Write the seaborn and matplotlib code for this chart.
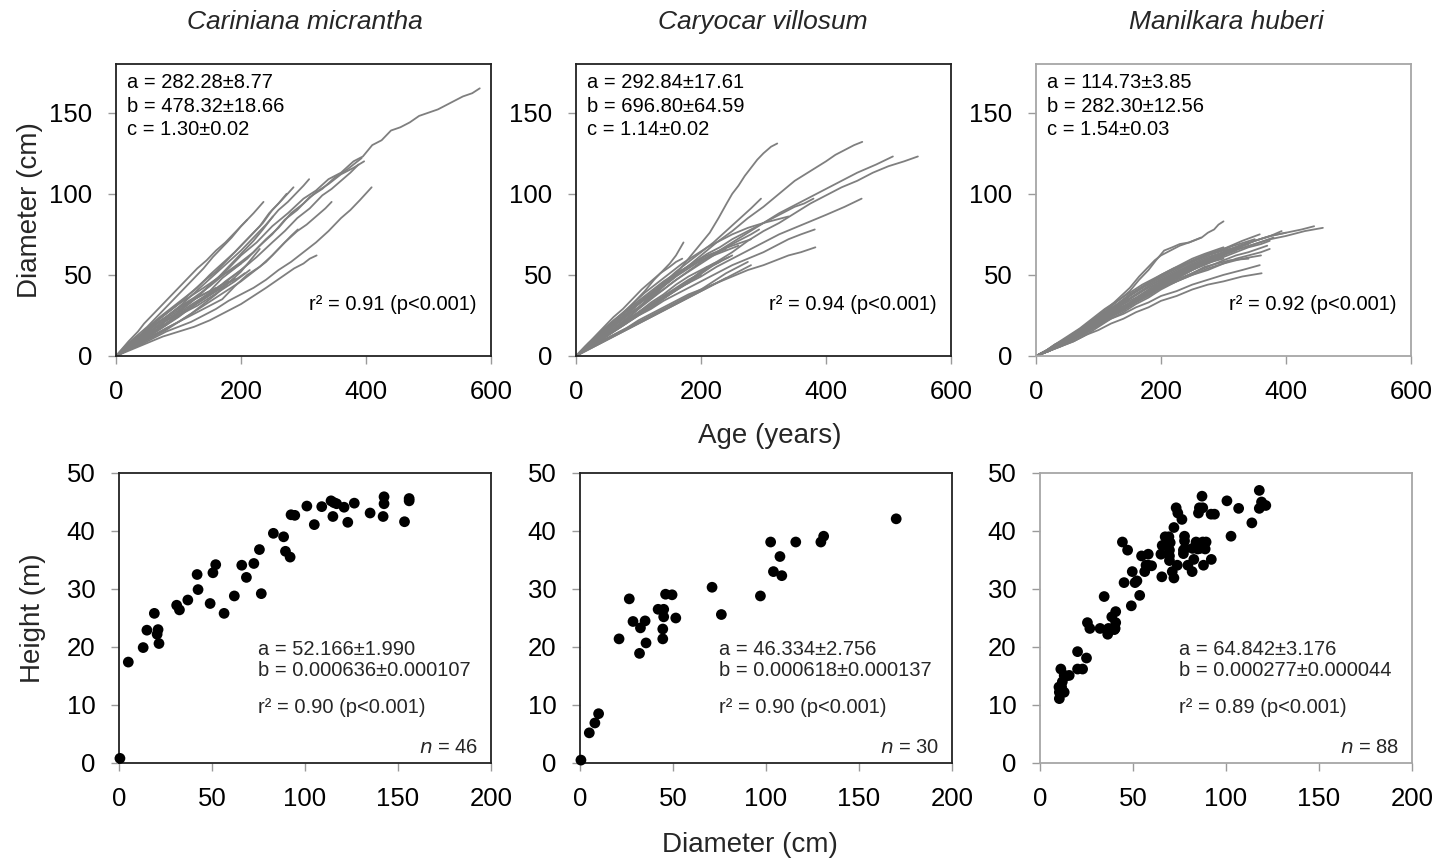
import matplotlib
matplotlib.use("Agg")
import matplotlib.pyplot as plt
import seaborn as sns
import pandas as pd

# ---------------- data ----------------
species = ["Cariniana micrantha", "Caryocar villosum", "Manilkara huberi"]

top_params = [
    ["a = 282.28±8.77", "b = 478.32±18.66", "c = 1.30±0.02"],
    ["a = 292.84±17.61", "b = 696.80±64.59", "c = 1.14±0.02"],
    ["a = 114.73±3.85", "b = 282.30±12.56", "c = 1.54±0.03"],
]
top_r2 = ["r² = 0.91 (p<0.001)", "r² = 0.94 (p<0.001)", "r² = 0.92 (p<0.001)"]

bottom_params = [
    ["a = 52.166±1.990", "b = 0.000636±0.000107"],
    ["a = 46.334±2.756", "b = 0.000618±0.000137"],
    ["a = 64.842±3.176", "b = 0.000277±0.000044"],
]
bottom_r2 = ["r² = 0.90 (p<0.001)", "r² = 0.90 (p<0.001)", "r² = 0.89 (p<0.001)"]
bottom_n = ["46", "30", "88"]

top_xticks = [0, 200, 400, 600]
top_yticks = [0, 50, 100, 150]
bot_xticks = [0, 50, 100, 150, 200]
bot_yticks = [0, 10, 20, 30, 40, 50]

# growth trajectories: (age in years, diameter in cm)
cariniana_lines = [
    [(0,0),(25,6),(50,13),(65,16),(80,22),(95,25),(110,31),(130,36),(150,44),(175,52),(200,62),(225,70),(250,80),(275,88),(300,97),(320,102),(340,109),(360,113),(380,120),(395,123),(410,130),(425,133),(440,139),(455,141),(470,144),(485,148),(500,150),(515,152),(530,155),(545,158),(555,160),(570,162),(582,165)],
    [(0,0),(15,6),(30,10),(45,14),(60,19),(80,24),(100,30),(125,36),(150,43),(175,51),(200,58),(220,64),(240,72),(260,79),(280,88),(300,94),(320,101),(340,106),(360,112),(380,116),(397,120)],
    [(0,0),(30,9),(45,12),(60,17),(80,23),(100,28),(125,35),(150,40),(170,48),(190,54),(210,60),(230,68),(250,75),(270,84),(290,90),(310,98),(330,103),(350,110),(370,115),(393,122)],
    [(0,0),(35,8),(50,12),(70,17),(90,23),(110,28),(130,33),(150,38),(175,46),(200,53),(225,61),(250,70),(270,77),(290,85),(310,91),(330,99),(345,103),(360,108),(375,113),(388,118)],
    [(0,0),(20,4),(40,7),(60,11),(80,15),(100,18),(120,21),(140,25),(160,29),(180,34),(200,38),(220,42),(240,47),(260,53),(280,58),(300,64),(320,70),(340,77),(360,85),(375,90),(390,96),(409,104)],
    [(0,0),(20,4),(40,8),(60,13),(80,17),(100,21),(120,25),(145,30),(170,35),(190,43),(210,50),(230,55),(250,62),(270,70),(290,77),(305,81),(320,86),(335,91),(345,95)],
    [(0,0),(25,4),(50,8),(75,12),(100,15),(125,18),(150,22),(175,27),(200,32),(220,37),(240,42),(255,46),(270,50),(285,54),(300,57),(310,60),(321,62)],
    [(0,0),(15,5),(30,9),(45,13),(60,18),(80,24),(100,30),(120,37),(140,44),(160,51),(180,58),(200,65),(220,73),(240,81),(260,90),(275,95),(290,101),(300,105),(309,109)],
    [(0,0),(15,5),(30,10),(45,15),(60,20),(80,26),(100,32),(120,39),(140,46),(160,52),(180,60),(200,68),(220,76),(235,82),(250,90),(265,96),(284,104)],
    [(0,0),(25,9),(40,13),(55,19),(70,24),(90,30),(110,36),(130,42),(150,50),(170,57),(190,64),(210,72),(230,80),(245,88),(260,94),(273,100)],
    [(0,0),(20,8),(35,13),(50,18),(65,24),(80,30),(95,36),(110,42),(125,48),(140,54),(155,61),(170,67),(185,73),(200,80),(220,88),(236,95)],
    [(0,0),(30,8),(45,12),(60,16),(80,22),(100,27),(120,33),(140,40),(160,47),(180,55),(200,63),(220,71),(235,78),(251,86)],
    [(0,0),(20,4),(40,8),(60,12),(80,17),(100,21),(120,26),(140,31),(160,36),(180,41),(200,46),(220,52),(240,58),(255,64),(270,70),(280,74),(291,78)],
    [(0,0),(15,3),(30,7),(50,12),(70,17),(90,22),(110,27),(130,31),(150,36),(170,41),(190,46),(214,53)],
    [(0,0),(30,8),(45,11),(60,15),(80,20),(100,25),(120,30),(140,35),(160,40),(180,45),(195,48),(206,51)],
    [(0,0),(20,5),(40,9),(60,14),(80,19),(100,25),(120,30),(140,35),(160,40),(175,44),(190,48)],
    [(0,0),(15,5),(30,9),(50,14),(70,19),(90,24),(110,29),(130,34),(150,39),(165,43),(180,46)],
    [(0,0),(15,5),(30,10),(45,15),(60,20),(80,26),(100,32),(120,37),(140,42),(155,46),(170,50),(185,53),(200,57)],
    [(0,0),(20,5),(40,10),(60,15),(80,20),(100,25),(120,30),(135,34),(150,38),(165,41),(175,44)],
    [(0,0),(15,3),(30,7),(45,10),(60,14),(80,19),(100,24),(120,30),(140,36),(160,41),(180,47),(200,53),(215,58)],
    [(0,0),(15,5),(30,10),(45,14),(60,19),(80,24),(100,29),(115,33),(130,36),(145,39),(160,42)],
    [(0,0),(20,4),(40,8),(60,12),(80,16),(100,21),(120,26),(140,32),(160,38),(180,45),(200,52),(215,59),(230,66)],
    [(0,0),(20,9),(35,15),(45,20),(60,26),(70,30),(85,36),(100,42),(115,48),(130,54),(145,59),(160,65),(175,70),(190,76),(210,84)],
]

caryocar_lines = [
    [(0,0),(20,5),(40,10),(60,16),(80,22),(100,29),(120,36),(135,41),(150,47),(165,53),(180,60),(197,68),(214,76),(228,85),(241,94),(250,100),(260,105),(270,111),(278,115),(290,121),(300,125),(312,129),(322,131)],
    [(0,0),(15,5),(30,10),(45,15),(60,20),(80,26),(100,32),(125,39),(150,46),(175,54),(200,62),(225,70),(250,77),(275,85),(300,92),(325,100),(350,108),(375,114),(400,120),(415,124),(430,127),(445,130),(458,132)],
    [(0,0),(15,5),(30,9),(50,14),(70,20),(90,26),(110,32),(130,38),(150,44),(175,51),(200,58),(225,64),(250,70),(275,76),(300,82),(325,88),(350,93),(375,98),(400,103),(425,108),(450,113),(480,118),(507,123)],
    [(0,0),(15,4),(30,7),(45,11),(60,15),(80,20),(100,25),(125,31),(150,38),(175,45),(200,52),(225,58),(250,64),(275,71),(300,77),(325,82),(350,88),(375,94),(400,99),(425,104),(450,108),(475,113),(500,117),(525,120),(547,123)],
    [(0,0),(15,4),(30,8),(50,13),(70,18),(90,24),(110,29),(130,33),(150,38),(175,44),(200,49),(225,55),(250,60),(275,65),(300,70),(325,75),(350,79),(375,83),(400,87),(430,92),(457,97)],
    [(0,0),(20,5),(40,10),(60,15),(80,20),(100,25),(120,29),(140,34),(160,38),(180,42),(200,46),(225,51),(250,56),(275,60),(300,64),(320,68),(340,72),(360,75),(382,78)],
    [(0,0),(20,5),(40,9),(60,13),(80,17),(100,22),(120,26),(140,30),(160,34),(180,38),(200,41),(225,45),(250,49),(275,53),(300,56),(320,59),(340,62),(360,64),(383,67)],
    [(0,0),(15,4),(30,9),(45,14),(60,19),(80,25),(100,32),(120,38),(140,45),(160,52),(180,58),(200,64),(220,70),(240,77),(260,84),(280,91),(296,97)],
    [(0,0),(20,7),(35,12),(50,17),(65,22),(80,28),(95,34),(110,40),(125,47),(140,53),(150,57),(160,62),(172,70)],
    [(0,0),(15,5),(30,10),(45,14),(60,19),(80,25),(100,30),(120,36),(140,41),(160,47),(180,52),(200,57),(220,62),(240,67),(260,71),(280,75),(293,78)],
    [(0,0),(20,5),(40,9),(60,13),(80,17),(100,21),(120,25),(140,29),(160,33),(180,37),(200,41),(220,46),(240,51),(260,55),(275,58)],
    [(0,0),(25,9),(40,14),(55,19),(70,24),(90,30),(110,36),(130,42),(150,48),(170,53),(190,58),(210,62),(230,65),(250,68),(265,70),(280,72)],
    [(0,0),(15,4),(30,8),(50,13),(70,18),(90,23),(110,28),(130,33),(150,38),(170,43),(190,48),(205,52),(220,56),(235,59),(250,62)],
    [(0,0),(20,6),(40,11),(60,17),(80,22),(100,27),(120,32),(140,37),(160,42),(180,47),(200,51),(215,55),(230,58)],
    [(0,0),(15,5),(30,9),(50,14),(70,19),(90,24),(110,29),(130,34),(150,39),(165,42),(180,45),(190,48),(200,50)],
    [(0,0),(15,6),(30,11),(45,17),(60,22),(80,28),(100,34),(120,40),(140,46),(160,51),(180,55),(200,59),(220,62),(240,65),(260,68)],
    [(0,0),(20,5),(40,10),(60,15),(80,20),(100,26),(120,31),(140,36),(160,41),(175,45),(190,49),(200,52),(210,55)],
    [(0,0),(20,4),(40,8),(60,12),(80,16),(100,20),(120,24),(140,28),(160,32),(180,36),(200,40),(220,44),(240,48)],
    [(0,0),(20,8),(35,13),(50,18),(70,25),(90,32),(110,39),(130,45),(150,51),(170,57),(190,62),(210,67),(230,71),(250,75),(275,79),(300,82),(320,84),(340,86)],
    [(0,0),(15,6),(30,12),(45,18),(60,24),(75,29),(90,35),(105,41),(120,46),(135,51),(150,55),(160,58),(170,60)],
    [(0,0),(25,5),(50,10),(75,15),(100,20),(125,25),(150,30),(175,35),(200,40),(225,45),(250,50),(265,53),(280,56)],
    [(0,0),(15,5),(30,10),(50,16),(70,22),(90,29),(110,35),(130,41),(150,47),(170,53),(190,58),(210,63),(230,67),(250,72),(270,76),(290,80),(310,84),(330,88),(350,92),(365,94),(380,97)],
    [(0,0),(20,6),(40,12),(60,18),(80,24),(100,30),(120,37),(140,43),(160,49),(180,54),(200,59),(220,63),(240,66)],
    [(0,0),(20,5),(40,11),(60,16),(80,21),(100,27),(120,33),(140,38),(160,44),(180,49),(200,53),(220,57),(245,61)],
]

manilkara_lines = [
    [(0,0),(25,4),(50,10),(75,17),(100,24),(125,32),(150,40),(165,47),(180,53),(192,59),(205,65),(218,67),(230,69),(245,70),(265,73),(275,76),(285,78),(292,81),(300,83)],
    [(0,0),(25,4),(50,11),(75,18),(100,25),(125,33),(150,42),(165,49),(180,55),(190,59),(200,62),(215,65),(230,68),(245,70),(264,73)],
    [(0,0),(20,3),(40,7),(60,11),(80,15),(100,19),(120,24),(140,29),(160,34),(180,39),(200,44),(225,49),(250,54),(275,58),(300,62),(325,66),(350,69),(375,72),(400,74),(430,77),(459,79)],
    [(0,0),(20,4),(40,8),(60,12),(80,17),(100,22),(120,27),(140,32),(160,36),(180,41),(200,46),(225,51),(250,56),(275,60),(300,64),(325,68),(350,71),(375,74),(400,76),(425,78),(445,80)],
    [(0,0),(20,3),(40,7),(60,11),(80,16),(100,21),(120,26),(140,30),(160,35),(180,40),(200,45),(225,50),(250,55),(275,59),(300,63),(325,67),(350,71),(375,74),(393,77)],
    [(0,0),(15,3),(30,6),(50,10),(70,15),(90,20),(110,26),(130,31),(150,37),(175,43),(200,48),(225,53),(250,58),(275,62),(300,66),(330,71),(358,75)],
    [(0,0),(20,3),(40,7),(60,11),(80,15),(100,20),(120,25),(140,29),(160,34),(180,39),(200,44),(225,48),(250,53),(275,57),(300,61),(320,64),(340,67),(360,69),(374,71)],
    [(0,0),(20,3),(40,6),(60,9),(80,13),(100,18),(120,23),(140,27),(160,32),(180,36),(200,41),(225,46),(250,50),(275,54),(300,57),(320,60),(340,62),(360,64),(374,66)],
    [(0,0),(20,3),(40,7),(60,11),(80,15),(100,19),(120,23),(140,26),(160,30),(180,33),(200,37),(225,40),(250,44),(275,47),(300,50),(330,53),(358,56)],
    [(0,0),(20,3),(40,6),(60,9),(80,13),(100,16),(120,20),(140,23),(160,27),(180,30),(200,34),(225,37),(250,41),(275,44),(300,46),(330,49),(361,51)],
    [(0,0),(15,3),(30,6),(50,10),(70,15),(90,20),(110,25),(130,30),(150,35),(175,41),(200,46),(225,51),(250,56),(275,60),(300,64),(320,67),(340,70)],
    [(0,0),(20,4),(40,8),(60,12),(80,17),(100,22),(120,28),(140,33),(160,38),(180,43),(200,47),(225,52),(250,57),(275,61),(300,64),(315,66),(330,68)],
    [(0,0),(15,3),(30,7),(50,11),(70,16),(90,21),(110,27),(130,32),(150,38),(175,44),(200,49),(225,54),(250,59),(275,63),(300,66),(325,69),(350,72)],
    [(0,0),(20,3),(40,7),(60,11),(80,15),(100,20),(120,25),(140,29),(160,34),(180,38),(200,43),(225,48),(250,53),(270,57),(290,60),(305,63),(320,65)],
    [(0,0),(20,4),(40,8),(60,12),(80,16),(100,21),(120,26),(140,30),(160,35),(180,40),(200,45),(225,50),(250,55),(275,59),(300,63),(325,66),(350,69),(365,71),(380,73)],
    [(0,0),(20,3),(40,7),(60,11),(80,15),(100,20),(120,25),(140,30),(160,35),(180,39),(200,44),(225,49),(250,54),(275,59),(300,63),(325,67),(350,71),(375,74),(400,76)],
    [(0,0),(20,3),(40,6),(60,10),(80,14),(100,19),(120,24),(140,28),(160,33),(180,37),(200,42),(225,46),(250,51),(275,55),(300,59),(320,62),(340,64),(355,66),(370,68)],
    [(0,0),(20,3),(40,7),(60,11),(80,16),(100,21),(120,26),(140,30),(160,34),(180,38),(200,42),(225,46),(250,50),(275,53),(300,57),(330,60),(360,62)],
    [(0,0),(15,3),(30,6),(50,10),(70,14),(90,19),(110,24),(130,28),(150,32),(170,36),(190,40),(210,44),(230,48),(250,51),(270,55),(290,57),(310,59),(340,60)],
    [(0,0),(20,4),(40,8),(60,13),(80,18),(100,23),(120,29),(140,34),(160,40),(180,45),(200,50),(220,54),(240,57),(260,60),(280,63),(295,65),(310,67)],
    [(0,0),(15,3),(30,7),(45,10),(60,14),(80,18),(100,23),(120,27),(140,31),(160,35),(180,39),(200,43),(220,47),(240,51),(260,55),(280,58),(300,60)],
    [(0,0),(15,3),(30,7),(50,12),(70,17),(90,23),(110,29),(130,34),(150,39),(170,44),(190,48),(210,52),(230,56),(250,60),(270,63),(285,65),(300,67)],
    [(0,0),(20,4),(40,8),(60,13),(80,18),(100,24),(120,29),(140,35),(160,40),(180,45),(200,49),(225,54),(250,58),(275,62),(300,65),(320,67),(340,69)],
    [(0,0),(20,4),(40,7),(60,12),(80,17),(100,22),(120,27),(140,33),(160,38),(180,43),(200,47),(225,52),(250,56),(270,59),(290,62)],
]

# height-diameter samples: (diameter cm, height m)
cariniana_hd = [
    (0.5,0.8),(5,17.4),(13,19.9),(15,22.9),(19,25.8),(21,23.0),(20.5,22.2),(21.5,20.6),
    (31,27.2),(32.5,26.4),(37,28.1),(42,32.5),(42.5,29.9),(49,27.5),(50.5,32.8),(52,34.2),
    (56.5,25.8),(62,28.8),(66,34.1),(68.5,32.0),(72.5,34.4),(75.5,36.8),(76.5,29.2),(83,39.6),
    (88.5,39.0),(89.5,36.5),(92,35.5),(92.5,42.8),(94.5,42.7),(101,44.3),(105,41.1),(109,44.2),
    (114,45.2),(115,42.5),(117,44.7),(121,44.1),(123,41.5),(126.5,44.8),(135,43.1),(142.5,45.9),
    (142.5,44.7),(142,42.5),(153.5,41.6),(156,45.6),(156,45.2),(115.5,44.9),
]
caryocar_hd = [
    (0.5,0.5),(5,5.2),(8,6.9),(10,8.5),(21,21.4),(26.5,28.3),(28.5,24.4),(32.5,23.3),
    (35,24.5),(32,18.9),(35.5,20.7),(42,26.5),(45,26.5),(45,25.2),(44.5,23.1),(44.5,21.4),
    (46,29.1),(49.5,29.0),(51.5,25.0),(71,30.3),(76,25.6),(97,28.8),(102.5,38.1),(104,33.0),
    (107.5,35.6),(108.5,32.3),(116,38.1),(129.5,38.1),(131,39.1),(170,42.1),
]
manilkara_hd = [
    (10.4,11.1),(10.4,12.2),(11.6,13.1),(10.2,13.1),(13,12.2),(11.2,16.2),(13,15.1),(15.7,15.1),
    (20.2,19.2),(20.2,16.2),(22.9,16.2),(25,18.1),(25.5,24.2),(26.8,23.2),(32.3,23.2),(34.5,28.7),
    (36.4,22.2),(36.8,23.2),(38.6,25.2),(40.7,26.1),(40.7,24.2),(40.4,23.2),(44.3,38.1),(45.2,31.1),
    (47.1,36.7),(49.1,27.1),(49.6,33.0),(51.1,31.1),(52.1,31.4),(53.6,28.9),(54.6,35.7),(58.2,36.0),
    (57.0,34.1),(58.2,34.1),(56.3,33.0),(65.5,32.1),(65.7,37.5),(67.3,39.0),(69.3,39.0),(69.6,36.7),
    (69.6,35.7),(69.6,34.9),(71.1,33.0),(72.0,31.9),(73.8,34.1),(72.0,40.6),(73.2,44.0),(74.1,43.1),
    (76.3,42.0),(77.7,39.1),(77.7,38.3),(77.1,36.7),(77.1,36.1),(79.5,34.1),(81.8,33.0),(82.7,35.1),
    (83.9,38.1),(84.8,36.9),(85.2,43.1),(85.7,44.0),(87.1,46.0),(87.5,44.0),(87.5,38.1),(89.3,38.1),
    (88.8,36.9),(87.9,34.1),(92.1,35.1),(92.0,42.9),(93.8,42.9),(100.5,45.2),(102.7,39.1),(106.8,43.9),
    (113.9,41.4),(117.9,47.0),(117.9,43.9),(119.1,45.0),(121.4,44.4),(12.0,14.0),(14.0,15.0),(40.0,23.0),
    (60.0,34.0),(78.0,37.0),(86.0,37.0),(120.0,44.5),(88.0,37.5),(82.0,37.0),(70.0,38.0),(65.0,36.0),
]

all_lines = [cariniana_lines, caryocar_lines, manilkara_lines]
all_hd = [cariniana_hd, caryocar_hd, manilkara_hd]

# ---------------- styling ----------------
sns.set_theme(style="white")
plt.rcParams["font.family"] = ["Liberation Sans", "DejaVu Sans"]

W, H = 1452, 858
fig = plt.figure(figsize=(W / 100, H / 100), dpi=100)

top_left_px = [116, 576, 1036]
bot_left_px = [119, 580, 1040]
frame_colors = ["#222222", "#222222", "#a6a6a6"]
tick_color = "#9a9a9a"
TICK_FS = 18.5
ANN_FS = 14.5


def style_axis(ax, fc, xticks, yticks, xlim, ylim):
    ax.set_xlim(*xlim)
    ax.set_ylim(*ylim)
    ax.set_xticks(xticks)
    ax.set_yticks(yticks)
    ax.set_xticklabels([str(t) for t in xticks])
    ax.set_yticklabels([str(t) for t in yticks])
    for s in ax.spines.values():
        s.set_color(fc)
        s.set_linewidth(1.3)
        s.set_visible(True)
    ax.tick_params(axis="x", direction="out", length=6, width=1, color=tick_color,
                   labelsize=TICK_FS, labelcolor="black", pad=11, bottom=True)
    ax.tick_params(axis="y", direction="out", length=6, width=1, color=tick_color,
                   labelsize=TICK_FS, labelcolor="black", pad=11, left=True)
    ax.set_xlabel("")
    ax.set_ylabel("")
    ax.grid(False)
    ax.set_facecolor("white")


for i in range(3):
    # ---------- top: diameter vs age ----------
    axt = fig.add_axes([top_left_px[i] / W, 1 - 356 / H, 375 / W, 292 / H])
    rows = []
    for k, line in enumerate(all_lines[i]):
        for (a, d) in line:
            rows.append({"tree": k, "age": a, "diam": d})
    df = pd.DataFrame(rows)
    sns.lineplot(data=df, x="age", y="diam", units="tree", estimator=None,
                 sort=False, color="#7f7f7f", linewidth=1.3, ax=axt, legend=False)
    style_axis(axt, frame_colors[i], top_xticks, top_yticks, (0, 600), (0, 180))
    for j, txt in enumerate(top_params[i]):
        axt.text(0.029, 0.938 - j * 0.082, txt, transform=axt.transAxes,
                 fontsize=ANN_FS, ha="left", va="center", color="black")
    axt.text(0.962, 0.175, top_r2[i], transform=axt.transAxes,
             fontsize=ANN_FS, ha="right", va="center", color="black")

    # ---------- bottom: height vs diameter ----------
    axb = fig.add_axes([bot_left_px[i] / W, 1 - 763 / H, 372 / W, 290 / H])
    hd = pd.DataFrame(all_hd[i], columns=["dbh", "height"])
    sns.scatterplot(data=hd, x="dbh", y="height", color="black", s=60,
                    edgecolor="none", ax=axb, legend=False, clip_on=False, zorder=3)
    style_axis(axb, frame_colors[i], bot_xticks, bot_yticks, (0, 200), (0, 50))
    axb.text(0.374, 0.39, bottom_params[i][0], transform=axb.transAxes,
             fontsize=ANN_FS, ha="left", va="center")
    axb.text(0.374, 0.318, bottom_params[i][1], transform=axb.transAxes,
             fontsize=ANN_FS, ha="left", va="center")
    axb.text(0.374, 0.19, bottom_r2[i], transform=axb.transAxes,
             fontsize=ANN_FS, ha="left", va="center")
    axb.text(0.965, 0.055, "$n$ = " + bottom_n[i], transform=axb.transAxes,
             fontsize=ANN_FS, ha="right", va="center")

# titles
title_x = [305, 763, 1226]
for i, name in enumerate(species):
    fig.text(title_x[i] / W, 1 - 22 / H, name, fontsize=19, style="italic",
             ha="center", va="center")

# axis labels
fig.text(30 / W, 1 - 210 / H, "Diameter (cm)", fontsize=20, rotation=90,
         ha="center", va="center")
fig.text(33 / W, 1 - 618 / H, "Height (m)", fontsize=20, rotation=90,
         ha="center", va="center")
fig.text(770 / W, 1 - 436 / H, "Age (years)", fontsize=20, ha="center", va="center")
fig.text(750 / W, 1 - 845 / H, "Diameter (cm)", fontsize=20, ha="center", va="center")

fig.savefig("out.png", dpi=100, facecolor="white")
